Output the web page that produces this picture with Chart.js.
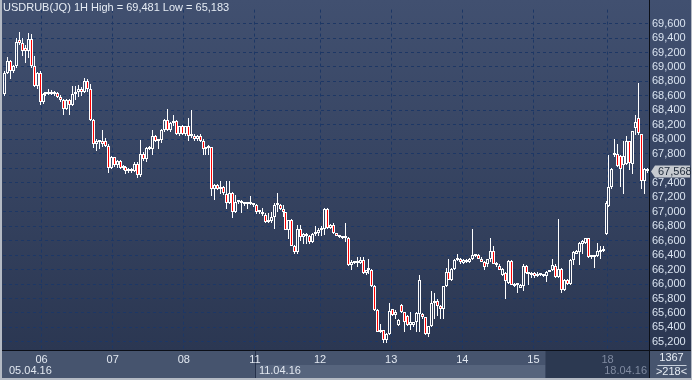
<!DOCTYPE html>
<html><head><meta charset="utf-8">
<script src="https://cdn.jsdelivr.net/npm/chart.js@4.4.0/dist/chart.umd.min.js"></script>
<style>html,body{margin:0;padding:0;background:#46546e;}canvas{display:block}</style>
</head><body>
<canvas id="c" width="692" height="380"></canvas>
<script>
// ---- data (USDRUB 1H candles, 05.04.16 - 18.04.16) ----
const opens = [
68630,68920,69080,68940,69010,69370,69330,69260,69220,69390,
69010,68740,68920,68510,68630,68620,68650,68630,68640,68590,
68540,68420,68540,68470,68620,68660,68700,68660,68810,68700,
68270,67930,67960,67970,67980,67910,67610,67750,67640,67700,
67610,67620,67560,67590,67560,67660,67500,67800,67730,67880,
67870,68040,67970,67990,68130,68265,68130,68220,68260,68070,
68180,68070,68180,68040,68050,68000,68040,67980,67860,67880,
67890,67320,67370,67310,67340,67250,67120,67260,67000,67140,
67150,67120,67110,67120,67110,67090,67000,66990,66960,66860,
66870,66930,67090,67090,67040,66990,66750,66880,66530,66440,
66760,66650,66690,66660,66580,66690,66700,66750,66760,67040,
66780,66820,66700,66670,66650,66630,66640,66260,66300,66310,
66290,66330,66150,66190,66200,65970,65640,65340,65360,65220,
65310,65650,65570,65440,65710,65610,65560,65430,65440,65470,
65590,65590,65540,65310,65420,65740,65760,65700,65650,65970,
66170,66060,66210,66330,66350,66290,66310,66300,66340,66400,
66400,66350,66300,66280,66340,66460,66280,66250,66130,66150,
66010,66320,65970,65990,65950,65970,66250,66150,66130,66150,
66110,66140,66130,66110,66170,66190,66250,66100,66210,65920,
66060,66000,66330,66420,66440,66550,66570,66630,66370,66380,
66390,66440,66450,66690,67080,67340,67780,67800,67770,67640,
67660,67970,67660,68150,68290,68070,67430,67560];
const highs = [
68950,69140,69100,69030,69400,69481,69400,69300,69470,69460,
69150,68930,68940,68640,68660,68690,68680,68670,68660,68610,
68560,68560,68560,68740,68740,68750,68720,68850,68840,68760,
68280,68010,67990,68130,68020,67930,67770,67760,67720,67710,
67640,67630,67600,67610,67680,67680,67995,67830,67900,67910,
68130,68060,68000,68140,68280,68414,68240,68330,68270,68190,
68200,68190,68290,68400,68070,68060,68080,68000,67890,67920,
67900,67380,67380,67430,67350,67430,67430,67270,67230,67160,
67160,67140,67130,67210,67120,67100,67020,67050,66980,66980,
67000,67120,67252,67100,67090,67000,66890,66900,66540,66820,
66820,66700,66700,66680,66700,66800,66780,66800,67050,67050,
66830,66850,66710,66680,66670,66850,66650,66330,66310,66370,
66370,66370,66200,66350,66210,65980,65650,65450,65370,65320,
65740,65660,65640,65510,65720,65620,65570,65610,65480,65610,
66130,65600,65540,65420,65900,65880,65790,65710,65970,66220,
66350,66220,66340,66410,66360,66340,66340,66360,66756,66420,
66410,66380,66320,66350,66640,66520,66300,66270,66220,66160,
66330,66330,66010,66000,66000,66280,66260,66170,66160,66160,
66160,66150,66140,66180,66200,66350,66270,66900,66220,66070,
66070,66340,66450,66470,66580,66610,66640,66640,66390,66400,
66570,66520,66520,67150,67790,67600,68010,67930,67780,67970,
68040,67980,68120,68330,68784,68080,67600,67600];
const lows = [
68600,68900,68830,68910,68990,69300,69150,69060,69120,68990,
68720,68700,68470,68490,68600,68610,68610,68600,68570,68520,
68330,68400,68330,68460,68540,68580,68600,68640,68650,68250,
67880,67840,67860,67900,67890,67540,67590,67620,67600,67590,
67580,67520,67530,67540,67550,67470,67480,67700,67680,67850,
67790,67960,67860,67950,68100,68120,68100,68190,68060,68050,
68060,68040,67970,68020,67980,67980,67960,67790,67790,67790,
67210,67160,67300,67250,67230,67030,67100,66910,66980,67100,
66980,67080,67030,67090,67060,66970,66970,66940,66850,66840,
66850,66760,67000,67020,66920,66740,66620,66520,66420,66420,
66600,66560,66550,66560,66570,66660,66660,66660,66680,66760,
66760,66690,66660,66640,66620,66580,66250,66190,66270,66240,
66280,66140,66130,66140,65960,65630,65330,65320,65183,65190,
65290,65560,65520,65420,65600,65340,65420,65360,65400,65340,
65340,65520,65300,65270,65400,65520,65560,65520,65520,65960,
66050,66040,66200,66320,66280,66280,66290,66290,66330,66370,
66340,66300,66190,66230,66310,66270,66240,66190,66110,65790,
66000,65980,65960,65880,65940,65900,66140,65990,66080,66090,
66100,66110,66100,66030,66160,66180,66080,66090,65880,65900,
65990,65990,66260,66410,66260,66420,66560,66360,66350,66220,
66380,66350,66440,66680,67060,67320,67750,67620,67340,67250,
67650,67570,67520,68060,68060,67320,67250,67540];
const closes = [
68920,69080,68940,69010,69350,69330,69220,69220,69390,69010,
68740,68920,68510,68630,68620,68650,68630,68640,68590,68540,
68420,68540,68470,68630,68660,68700,68660,68810,68700,68270,
67930,67970,67970,67930,67910,67610,67750,67640,67700,67610,
67620,67560,67590,67560,67660,67500,67800,67730,67880,67870,
68040,67970,67990,68130,68265,68130,68220,68260,68070,68180,
68070,68180,68040,68050,68000,68040,67980,67860,67880,67890,
67320,67370,67310,67340,67260,67120,67260,66990,67140,67150,
67120,67110,67120,67110,67090,67000,66990,66970,66860,66870,
66930,67090,67100,67040,66990,66750,66880,66530,66440,66760,
66650,66690,66660,66580,66690,66700,66750,66760,67040,66780,
66820,66700,66670,66650,66630,66640,66260,66300,66290,66290,
66330,66150,66190,66200,65970,65640,65340,65360,65220,65310,
65630,65570,65620,65500,65610,65480,65430,65470,65470,65600,
66060,65540,65310,65420,65740,65760,65700,65650,65970,66170,
66060,66210,66330,66350,66300,66330,66300,66350,66400,66390,
66350,66300,66240,66340,66460,66280,66260,66200,66210,66040,
66320,65990,65990,65980,65990,66250,66150,66140,66150,66110,
66140,66130,66110,66170,66190,66260,66100,66210,65920,66060,
66000,66330,66440,66460,66570,66600,66630,66370,66380,66390,
66450,66440,66490,67120,67340,67590,67800,67630,67590,67770,
67970,67670,68110,68240,68090,67430,67590,67568];

// first bar index of each trading day and its label
const dayStarts = [13, 37, 61, 85, 107, 131, 155, 179, 204];
const dayLabels = ['06', '07', '08', '11', '12', '13', '14', '15', '18'];
const weekLabels = ['05.04.16', '11.04.16', '18.04.16'];
const weekStarts = [0, 85, 204];
const yTicks = [65200,65400,65600,65800,66000,66200,66400,66600,66800,67000,67200,67400,67600,67800,68000,68200,68400,68600,68800,69000,69200,69400,69600];
const lastPrice = 67568;
const titleText = 'USDRUB(JQ) 1H High = 69,481 Low = 65,183';
const barCountText = '1367';
const visibleText = '>218<';

// ---- build library datasets ----
const N = closes.length;
const bodyData = [], upData = [], dnData = [], bodyFill = [];
for (let i = 0; i < N; i++) {
  const top = Math.max(opens[i], closes[i]), bot = Math.min(opens[i], closes[i]);
  bodyData.push({x: i, y: [bot, top]});
  upData.push({x: i, y: [top, highs[i]]});
  dnData.push({x: i, y: [lows[i], bot]});
  bodyFill.push(closes[i] < opens[i] ? '#ff0000' : 'rgba(0,0,0,0)');
}

const FONT = "'Liberation Sans', Arial, sans-serif";

// snap bar elements (positioned by the x/y scales) onto the pixel grid for crisp candles
const snap = {
  id: 'snap',
  beforeDatasetsDraw(chart) {
    chart.data.datasets.forEach((ds, di) => {
      chart.getDatasetMeta(di).data.forEach(el => {
        el.x = Math.floor(el.x) + 0.5;
        el.y = Math.round(el.y);
        el.base = Math.round(el.base);
      });
    });
  }
};

const decor = {
  id: 'decor',
  beforeDraw(chart) {
    const ctx = chart.ctx, a = chart.chartArea, W = chart.width, H = chart.height;
    ctx.save();
    ctx.fillStyle = '#46546e';
    ctx.fillRect(0, 0, W, H);
    const g = ctx.createLinearGradient(0, 0, 0, a.bottom);
    g.addColorStop(0, '#415070');
    g.addColorStop(1, '#2b3752');
    ctx.fillStyle = g;
    ctx.fillRect(0, 0, W, a.bottom);
    // bottom date row boxes
    const xs = chart.scales.x;
    const wx = weekStarts.map(v => xs.getPixelForValue(v - 0.5));
    ctx.fillStyle = '#56647d';
    ctx.fillRect(wx[1], a.bottom + 15, wx[2] - 62 - wx[1], 13);
    ctx.fillStyle = '#2c3951';
    ctx.fillRect(wx[2] - 62, a.bottom, a.right - (wx[2] - 62), 28);
    ctx.strokeStyle = '#24304a';
    ctx.lineWidth = 1;
    ctx.beginPath();
    ctx.moveTo(Math.round(wx[1]) + 0.5, a.bottom);
    ctx.lineTo(Math.round(wx[1]) + 0.5, a.bottom + 28);
    ctx.stroke();
    ctx.restore();
  },
  afterDraw(chart) {
    const ctx = chart.ctx, a = chart.chartArea, W = chart.width, H = chart.height;
    const xs = chart.scales.x, ys = chart.scales.y;
    ctx.save();
    // separators
    ctx.strokeStyle = '#0b0f18';
    ctx.lineWidth = 1;
    ctx.beginPath();
    ctx.moveTo(Math.round(a.right) + 0.5, 0); ctx.lineTo(Math.round(a.right) + 0.5, H);
    ctx.moveTo(0, Math.round(a.bottom) + 0.5); ctx.lineTo(W, Math.round(a.bottom) + 0.5);
    ctx.stroke();
    // title
    ctx.font = '11px ' + FONT;
    ctx.textBaseline = 'middle';
    ctx.textAlign = 'left';
    ctx.fillStyle = '#e6ecf4';
    ctx.fillText(titleText, 3, 8);
    // week date labels
    const wx = weekStarts.map(v => xs.getPixelForValue(v - 0.5));
    ctx.fillStyle = '#e2e8f1';
    ctx.fillText(weekLabels[0], 9, a.bottom + 21);
    ctx.fillText(weekLabels[1], wx[1] + 4, a.bottom + 21);
    ctx.textAlign = 'right';
    ctx.fillStyle = '#7f8aa0';
    ctx.fillText(weekLabels[2], a.right - 2, a.bottom + 21);
    // right-bottom info panel
    ctx.textAlign = 'center';
    ctx.fillStyle = '#e6ecf4';
    const cx = (a.right + W) / 2 + 1;
    ctx.fillText(barCountText, cx, a.bottom + 8);
    ctx.fillText(visibleText, cx, a.bottom + 22);
    ctx.strokeStyle = '#c8d0dc';
    ctx.beginPath();
    ctx.moveTo(cx - 14, a.bottom + 15.5); ctx.lineTo(cx + 15, a.bottom + 15.5);
    ctx.stroke();
    // last price tag
    const py = Math.round(ys.getPixelForValue(lastPrice));
    const x0 = a.right + 1;
    ctx.fillStyle = '#c6cad0';
    ctx.beginPath();
    ctx.moveTo(x0 + 1, py + 0.5);
    ctx.lineTo(x0 + 5, py - 5.5);
    ctx.lineTo(W - 2, py - 5.5);
    ctx.lineTo(W - 2, py + 6.5);
    ctx.lineTo(x0 + 5, py + 6.5);
    ctx.closePath();
    ctx.fill();
    ctx.fillStyle = '#1c2838';
    ctx.textAlign = 'left';
    ctx.fillText(lastPrice.toLocaleString('en-US'), x0 + 8, py + 1);
    // outer frame
    ctx.fillStyle = '#b4bac4';
    ctx.fillRect(0, 0, 2, H);
    ctx.fillRect(0, H - 2, W, 2);
    ctx.fillRect(W - 1, 0, 1, H);
    ctx.restore();
  }
};

const gridColor = '#1d3765';
new Chart(document.getElementById('c'), {
  type: 'bar',
  data: {
    datasets: [
      {data: bodyData, backgroundColor: bodyFill, borderColor: '#ffffff', borderWidth: 1,
       borderSkipped: false, barThickness: 3, minBarLength: 2, inflateAmount: 0, grouped: false, order: 0},
      {data: upData, backgroundColor: '#ffffff', borderWidth: 0, barThickness: 1, inflateAmount: 0, grouped: false, order: 1},
      {data: dnData, backgroundColor: '#ffffff', borderWidth: 0, barThickness: 1, inflateAmount: 0, grouped: false, order: 1}
    ]
  },
  options: {
    responsive: false, animation: false, devicePixelRatio: 1,
    layout: {padding: {left: 3, top: 2, right: 0, bottom: 0}},
    plugins: {legend: {display: false}, tooltip: {enabled: false}},
    scales: {
      x: {
        type: 'linear', min: -0.5, max: N - 0.5, bounds: 'data', position: 'bottom', offset: false,
        afterBuildTicks: s => { s.ticks = dayStarts.map(v => ({value: v - 0.5})); },
        afterFit: s => { s.height = 30; },
        grid: {color: gridColor, lineWidth: 1, drawTicks: false, offset: false},
        border: {display: false, dash: [3, 3]},
        ticks: {autoSkip: false, maxRotation: 0, padding: 3,
          font: {family: FONT, size: 11},
          color: c => (c.index === 8 ? '#7f8aa0' : '#e2e8f1'),
          callback: (v, i) => dayLabels[i]}
      },
      y: {
        type: 'linear', position: 'right', min: 65088, max: 69793, bounds: 'data',
        afterBuildTicks: s => { s.ticks = yTicks.map(v => ({value: v})); },
        afterFit: s => { s.width = 43; },
        grid: {color: gridColor, lineWidth: 1, drawTicks: false},
        border: {display: false, dash: [3, 3]},
        ticks: {autoSkip: false, padding: 3, font: {family: FONT, size: 11}, color: '#d9e3f0',
          callback: v => (Math.abs(v - lastPrice) < 100 ? '' : Number(v).toLocaleString('en-US'))}
      }
    }
  },
  plugins: [snap, decor]
});
</script>
</body></html>
